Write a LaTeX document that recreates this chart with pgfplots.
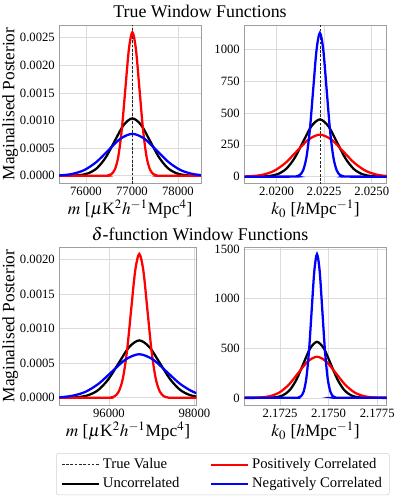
\documentclass[border=0pt]{standalone}
\usepackage{mathptmx}
\usepackage[no-math]{fontspec}
\setmainfont{Liberation Serif}
\usepackage{pgfplots}
\pgfplotsset{compat=1.18}

\pgfplotsset{
  panel/.style={
    scale only axis, anchor=north west,
    height=118.5pt,
    grid=major,
    major grid style={gray!28, line width=0.5pt},
    axis line style={gray!75, line width=0.6pt},
    major tick length=0pt,
    tick label style={font=\fontsize{9.5}{11}\selectfont},
    xticklabel style={inner ysep=0.3pt, yshift=-2.6pt},
    /pgf/number format/assume math mode=true,
    /pgf/number format/set thousands separator={},
    scaled x ticks=false, scaled y ticks=false,
    every axis y label/.style={at={(axis description cs:0,0.5)}, xshift=-37pt, rotate=90, anchor=center,
      inner sep=0pt, font=\fontsize{13}{15}\selectfont},
    every axis x label/.style={at={(axis description cs:0.5,0)}, yshift=-19.8pt, anchor=center,
      inner sep=0pt, font=\fontsize{13}{15}\selectfont},
  },
  fourdec y/.style={yticklabel style={/pgf/number format/.cd, fixed, fixed zerofill, precision=4}},
  fourdec x/.style={xticklabel style={/pgf/number format/.cd, fixed, fixed zerofill, precision=4}},
  curve/.style={smooth, line width=1.7pt, no markers},
  truevalue/.style={black!85, line width=0.6pt, dash pattern=on 2pt off 1.2pt},
}

\begin{document}
\begin{tikzpicture}
\useasboundingbox (0,0) rectangle (299.25pt,-375pt);
\node[anchor=base, font=\fontsize{13.4}{16}\selectfont] at (150pt,-12.75pt) {True Window Functions};
\node[anchor=base, font=\fontsize{13.4}{16}\selectfont] at (150pt,-180pt) {$\delta$-function Window Functions};

% top left: m, true window
\begin{axis}[panel, fourdec y, name=tl, at={(44.6pt,-18.75pt)}, width=106.1pt,
  xmin=75424, xmax=78500, ymin=-0.00013, ymax=0.00273,
  xtick={76000,77000,78000}, ytick={0,0.0005,0.001,0.0015,0.002,0.0025},
  xlabel={$m$ [$\mu$K$^2h^{-1}$Mpc$^4$]}, ylabel={Maginalised Posterior}]
\addplot[truevalue] coordinates {(77007,-0.0003) (77007,0.003)};
\addplot[curve, black] coordinates {(75400,0) (75474,0.0000003) (75666,0.0000023) (75858,0.0000115) (76050,0.0000457) (76242,0.000141) (76434,0.000338) (76626,0.000631) (76818,0.000918) (77010,0.00104) (77202,0.000918) (77394,0.000631) (77586,0.000338) (77778,0.000141) (77970,0.0000457) (78162,0.0000115) (78354,0.0000023) (78546,0.0000003) (78600,0)};
\addplot[curve, red] coordinates {(75400,0) (76398,0.0000008) (76474,0.0000057) (76551,0.0000289) (76628,0.000114) (76704,0.000352) (76780,0.000844) (76857,0.001577) (76934,0.002295) (77010,0.0026) (77086,0.002295) (77163,0.001577) (77240,0.000844) (77316,0.000352) (77392,0.000114) (77469,0.0000289) (77546,0.0000057) (77622,0.0000008) (78600,0)};
\addplot[curve, blue] coordinates {(74910,0.0000002) (75172,0.0000017) (75435,0.0000084) (75698,0.0000334) (75960,0.000103) (76222,0.000247) (76485,0.000461) (76748,0.000671) (77010,0.00076) (77272,0.000671) (77535,0.000461) (77798,0.000247) (78060,0.000103) (78322,0.0000334) (78585,0.0000084) (78848,0.0000017) (79110,0.0000002)};
\end{axis}

% top right: k0, true window
\begin{axis}[panel, fourdec x, name=tr, at={(183.4pt,-18.75pt)}, width=106.5pt,
  xmin=2.01832, xmax=2.02578, ymin=-50, ymax=1192,
  xtick={2.02,2.0225,2.025}, ytick={0,250,500,750,1000},
  xlabel={$k_0$ [$h$Mpc$^{-1}$]}]
\addplot[truevalue] coordinates {(2.02228,-100) (2.02228,1300)};
\addplot[curve, black] coordinates {(2.0180,0) (2.018732,0.1) (2.0191755,1.0) (2.019619,5.0) (2.0200625,19.8) (2.020506,60.9) (2.0209495,146.1) (2.021393,272.9) (2.0218365,397.1) (2.02228,450) (2.0227235,397.1) (2.023167,272.9) (2.0236105,146.1) (2.024054,60.9) (2.0244975,19.8) (2.024941,5.0) (2.0253845,1.0) (2.025828,0.1) (2.0262,0)};
\addplot[curve, red] coordinates {(2.01744,0.1) (2.018045,0.7) (2.01865,3.7) (2.019255,14.5) (2.01986,44.6) (2.020465,107.2) (2.02107,200.1) (2.021675,291.2) (2.02228,330) (2.022885,291.2) (2.02349,200.1) (2.024095,107.2) (2.0247,44.6) (2.025305,14.5) (2.02591,3.7) (2.026515,0.7) (2.02712,0.1)};
\addplot[curve, blue] coordinates {(2.0180,0) (2.020868,0.3) (2.0210445,2.5) (2.021221,12.5) (2.0213975,49.6) (2.021574,152.9) (2.0217505,366.9) (2.021927,685.3) (2.0221035,997.2) (2.02228,1130) (2.0224565,997.2) (2.022633,685.3) (2.0228095,366.9) (2.022986,152.9) (2.0231625,49.6) (2.023339,12.5) (2.0235155,2.5) (2.023692,0.3) (2.0262,0)};
\end{axis}

% bottom left: m, delta window
\begin{axis}[panel, fourdec y, name=bl, at={(44.6pt,-185.25pt)}, width=102.75pt,
  xmin=94840, xmax=98050, ymin=-0.000104, ymax=0.00218,
  xtick={96000,98000}, ytick={0,0.0005,0.001,0.0015,0.002},
  xlabel={$m$ [$\mu$K$^2h^{-1}$Mpc$^4$]}, ylabel={Maginalised Posterior},
  legend columns=2,
  legend image code/.code={\draw[#1] (0pt,0pt) -- (23pt,0pt); \path (0pt,0pt) -- (28pt,0pt);},
  legend style={at={(axis description cs:0,0)}, anchor=north west, xshift=-2.6pt, yshift=-36pt,
    draw=gray!35, rounded corners=2pt, font=\fontsize{11}{13}\selectfont,
    inner xsep=3.5pt, inner ysep=2pt, row sep=1pt, legend cell align=left,
    /tikz/every even column/.append style={column sep=21pt}}]
\addplot[curve, black, forget plot] coordinates {(94786,0.0000002) (95026,0.0000018) (95267,0.0000092) (95507,0.0000364) (95748,0.000112) (95988,0.00027) (96229,0.000503) (96470,0.000732) (96710,0.00083) (96950,0.000732) (97191,0.000503) (97432,0.00027) (97672,0.000112) (97912,0.0000364) (98153,0.0000092) (98394,0.0000018) (98634,0.0000002)};
\addplot[curve, red, forget plot] coordinates {(94800,0) (95942,0.0000006) (96038,0.0000046) (96134,0.0000231) (96230,0.0000913) (96326,0.000281) (96422,0.000675) (96518,0.001262) (96614,0.001836) (96710,0.00208) (96806,0.001836) (96902,0.001262) (96998,0.000675) (97094,0.000281) (97190,0.0000913) (97286,0.0000231) (97382,0.0000046) (97478,0.0000006) (98200,0)};
\addplot[curve, blue, forget plot] coordinates {(94178,0.0000002) (94494,0.0000014) (94811,0.000007) (95128,0.0000277) (95444,0.0000852) (95760,0.000205) (96077,0.000382) (96394,0.000556) (96710,0.00063) (97026,0.000556) (97343,0.000382) (97660,0.000205) (97976,0.0000852) (98292,0.0000277) (98609,0.000007) (98926,0.0000014) (99242,0.0000002)};
\addlegendimage{truevalue}
\addlegendentry{True Value}
\addlegendimage{red, line width=1.5pt}
\addlegendentry{Positively Correlated}
\addlegendimage{black, line width=1.5pt}
\addlegendentry{Uncorrelated}
\addlegendimage{blue, line width=1.5pt}
\addlegendentry{Negatively Correlated}
\end{axis}

% bottom right: k0, delta window
\begin{axis}[panel, fourdec x, name=br, at={(183.4pt,-185.25pt)}, width=106.5pt,
  xmin=2.17067, xmax=2.17798, ymin=-72, ymax=1522,
  xtick={2.1725,2.175,2.1775}, ytick={0,500,1000,1500},
  xlabel={$k_0$ [$h$Mpc$^{-1}$]}]
\addplot[curve, black] coordinates {(2.1700,0) (2.171576,0.2) (2.171929,1.2) (2.172282,6.3) (2.172635,24.8) (2.172988,76.4) (2.173341,183.5) (2.173694,342.7) (2.174047,498.6) (2.1744,565) (2.174753,498.6) (2.175106,342.7) (2.175459,183.5) (2.175812,76.4) (2.176165,24.8) (2.176518,6.3) (2.176871,1.2) (2.177224,0.2) (2.1790,0)};
\addplot[curve, red] coordinates {(2.170556,0.1) (2.1710365,0.9) (2.171517,4.6) (2.1719975,18.2) (2.172478,56.1) (2.1729585,134.8) (2.173439,251.7) (2.1739195,366.2) (2.1744,415) (2.1748805,366.2) (2.175361,251.7) (2.1758415,134.8) (2.176322,56.1) (2.1768025,18.2) (2.177283,4.6) (2.1777635,0.9) (2.178244,0.1)};
\addplot[curve, blue] coordinates {(2.1700,0) (2.1733,0.4) (2.1734375,3.2) (2.173575,16.1) (2.1737125,63.7) (2.17385,196.2) (2.1739875,470.8) (2.174125,879.4) (2.1742625,1279.6) (2.1744,1450) (2.1745375,1279.6) (2.174675,879.4) (2.1748125,470.8) (2.17495,196.2) (2.1750875,63.7) (2.175225,16.1) (2.1753625,3.2) (2.1755,0.4) (2.1790,0)};
\end{axis}
\end{tikzpicture}
\end{document}
